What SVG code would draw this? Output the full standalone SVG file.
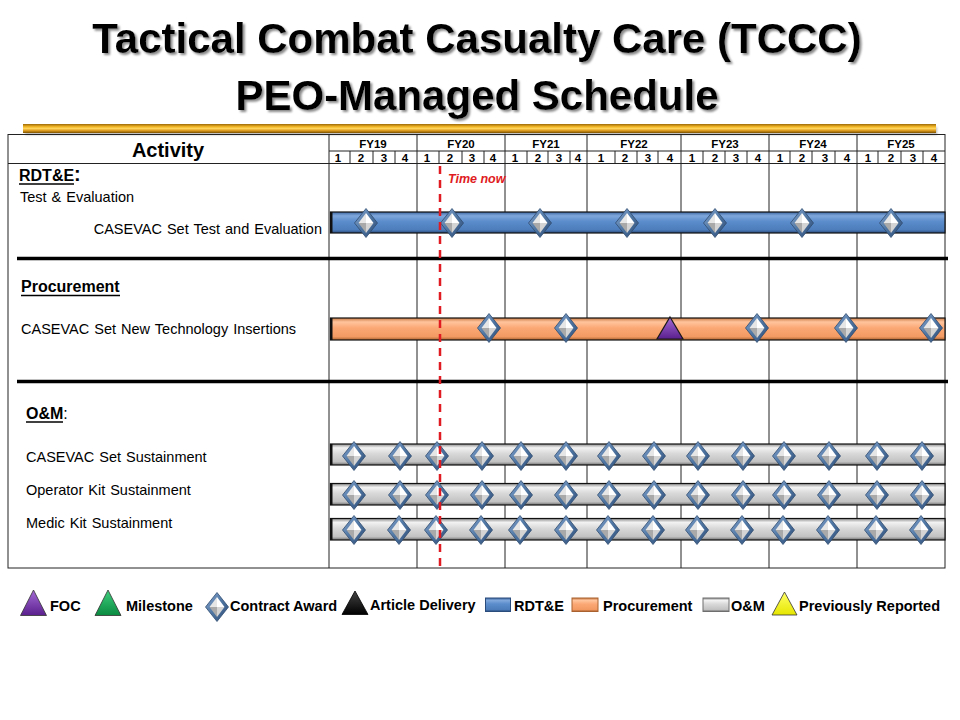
<svg xmlns="http://www.w3.org/2000/svg" width="960" height="720" viewBox="0 0 960 720">
<style>
.t{font-family:"Liberation Sans",Arial,sans-serif;fill:#000}
.title{font-size:42px;font-weight:bold;text-anchor:middle}
.hd{font-size:11.5px;font-weight:bold;text-anchor:middle}
.lbl{font-size:14.5px;word-spacing:1px}
.sec{font-weight:bold;font-size:16px}
.leg{font-size:14.5px;font-weight:bold}
.grid{stroke:#222;stroke-width:1;fill:none}
.sep{stroke:#000;stroke-width:3.5}
.bar{stroke:#111;stroke-width:1.2}
.now{stroke:#e01b22;stroke-width:2.5;stroke-dasharray:8 6;fill:none}
</style>
<defs>
<filter id="blur" x="-5%" y="-20%" width="110%" height="140%"><feGaussianBlur stdDeviation="1.2"/></filter>
<filter id="tshadow" x="-5%" y="-20%" width="110%" height="150%">
<feGaussianBlur in="SourceAlpha" stdDeviation="1.2"/>
<feOffset dx="2" dy="2" result="o"/>
<feFlood flood-color="#8a8a8a"/>
<feComposite in2="o" operator="in" result="s"/>
<feMerge><feMergeNode in="s"/><feMergeNode in="SourceGraphic"/></feMerge>
</filter>
<linearGradient id="gold" x1="0" y1="0" x2="0" y2="1">
<stop offset="0" stop-color="#9c6a08"/><stop offset="0.3" stop-color="#f2b526"/><stop offset="0.5" stop-color="#ffd45a"/><stop offset="0.75" stop-color="#d8961a"/><stop offset="1" stop-color="#7a5000"/>
</linearGradient>
<linearGradient id="gBlue" x1="0" y1="0" x2="0" y2="1">
<stop offset="0" stop-color="#3d67a0"/><stop offset="0.18" stop-color="#7fa7dc"/><stop offset="0.45" stop-color="#5b8ccb"/><stop offset="0.85" stop-color="#4d7dbb"/><stop offset="1" stop-color="#2a4c7c"/>
</linearGradient>
<linearGradient id="gOrange" x1="0" y1="0" x2="0" y2="1">
<stop offset="0" stop-color="#c97a45"/><stop offset="0.18" stop-color="#ffc49c"/><stop offset="0.45" stop-color="#fba875"/><stop offset="0.85" stop-color="#f39a62"/><stop offset="1" stop-color="#a9622f"/>
</linearGradient>
<linearGradient id="gGray" x1="0" y1="0" x2="0" y2="1">
<stop offset="0" stop-color="#8c8c8c"/><stop offset="0.18" stop-color="#f2f2f2"/><stop offset="0.45" stop-color="#d9d9d9"/><stop offset="0.85" stop-color="#c2c2c2"/><stop offset="1" stop-color="#6e6e6e"/>
</linearGradient>
<linearGradient id="gDiaOut" x1="0" y1="0" x2="1" y2="1">
<stop offset="0" stop-color="#86a7cf"/><stop offset="0.5" stop-color="#4f76a3"/><stop offset="1" stop-color="#2b4a72"/>
</linearGradient>
<linearGradient id="gPurple" x1="0" y1="0" x2="0" y2="1">
<stop offset="0" stop-color="#a46ad6"/><stop offset="1" stop-color="#5a1f8c"/>
</linearGradient>
<linearGradient id="gGreen" x1="0" y1="0" x2="0" y2="1">
<stop offset="0" stop-color="#3fd07e"/><stop offset="1" stop-color="#0a8a40"/>
</linearGradient>
<linearGradient id="gBlack" x1="0" y1="0" x2="0" y2="1">
<stop offset="0" stop-color="#444"/><stop offset="1" stop-color="#000"/>
</linearGradient>
<linearGradient id="gYellow" x1="0" y1="0" x2="0" y2="1">
<stop offset="0" stop-color="#ffff66"/><stop offset="1" stop-color="#e6e600"/>
</linearGradient>
<g id="dia">
<polygon points="0,-14.5 11.5,0 0,14.5 -11.5,0" fill="url(#gDiaOut)" stroke="#2e4b70" stroke-width="0.8"/>
<polygon points="0,-10 -7.5,0 0,0" fill="#e6e6e6"/>
<polygon points="0,-10 7.5,0 0,0" fill="#ffffff"/>
<polygon points="-7.5,0 0,10 0,0" fill="#a9a9a9"/>
<polygon points="7.5,0 0,10 0,0" fill="#d4d4d4"/>
</g>
</defs>

<g id="title" filter="url(#tshadow)">
<text class="t title" x="477" y="53">Tactical Combat Casualty Care (TCCC)</text>
<text class="t title" x="477" y="110">PEO-Managed Schedule</text>
</g>

<g id="goldbar">
<rect x="25" y="127" width="912" height="8" fill="#bdbdbd" filter="url(#blur)"/>
<rect x="23" y="124" width="913" height="9" fill="url(#gold)"/>
</g>

<g id="table">
<rect x="8" y="134.5" width="937" height="433.5" fill="#fff" class="grid"/>
<line class="grid" x1="8" y1="163.5" x2="945" y2="163.5"/>
<line class="grid" x1="329" y1="151" x2="945" y2="151"/>
<g class="grid">
<line x1="329" y1="134.5" x2="329" y2="568"/>
<line x1="417" y1="134.5" x2="417" y2="568"/>
<line x1="505" y1="134.5" x2="505" y2="568"/>
<line x1="587" y1="134.5" x2="587" y2="568"/>
<line x1="681" y1="134.5" x2="681" y2="568"/>
<line x1="769" y1="134.5" x2="769" y2="568"/>
<line x1="857" y1="134.5" x2="857" y2="568"/>
<path d="M350,151V163.5M373,151V163.5M395,151V163.5M439,151V163.5M462,151V163.5M484,151V163.5M527,151V163.5M548,151V163.5M570,151V163.5M615,151V163.5M637,151V163.5M658,151V163.5M703,151V163.5M725,151V163.5M747,151V163.5M790,151V163.5M812,151V163.5M835,151V163.5M878,151V163.5M901,151V163.5M923,151V163.5"/>
</g>
<text class="t" x="168" y="157" font-size="20" font-weight="bold" text-anchor="middle">Activity</text>
<g class="t hd">
<text x="373" y="148">FY19</text><text x="461" y="148">FY20</text><text x="546" y="148">FY21</text><text x="634" y="148">FY22</text><text x="725" y="148">FY23</text><text x="813" y="148">FY24</text><text x="901" y="148">FY25</text>
</g>
<g class="t hd">
<text x="338" y="161.5">1</text><text x="361" y="161.5">2</text><text x="384" y="161.5">3</text><text x="405" y="161.5">4</text>
<text x="427" y="161.5">1</text><text x="450" y="161.5">2</text><text x="472" y="161.5">3</text><text x="493" y="161.5">4</text>
<text x="515" y="161.5">1</text><text x="538" y="161.5">2</text><text x="559" y="161.5">3</text><text x="578" y="161.5">4</text>
<text x="601" y="161.5">1</text><text x="625" y="161.5">2</text><text x="648" y="161.5">3</text><text x="670" y="161.5">4</text>
<text x="692" y="161.5">1</text><text x="715" y="161.5">2</text><text x="736" y="161.5">3</text><text x="758" y="161.5">4</text>
<text x="780" y="161.5">1</text><text x="802" y="161.5">2</text><text x="825" y="161.5">3</text><text x="847" y="161.5">4</text>
<text x="868" y="161.5">1</text><text x="891" y="161.5">2</text><text x="913" y="161.5">3</text><text x="934" y="161.5">4</text>
</g>
<line class="sep" x1="17" y1="258.5" x2="948" y2="258.5"/>
<line class="sep" x1="17" y1="381.5" x2="948" y2="381.5"/>
</g>

<g id="rdte">
<text class="t sec" x="19" y="181">RDT&amp;E<tspan font-size="20">:</tspan></text>
<line x1="19" y1="184" x2="74" y2="184" stroke="#000" stroke-width="1.5"/>
<text class="t lbl" x="20" y="201.5">Test &amp; Evaluation</text>
<text class="t lbl" x="322" y="234" text-anchor="end">CASEVAC Set Test and Evaluation</text>
<rect class="bar" x="330.5" y="212" width="614.5" height="21" fill="url(#gBlue)"/>
<line x1="331.5" y1="212" x2="331.5" y2="233" stroke="#111" stroke-width="2"/>
<use href="#dia" x="366" y="223"/><use href="#dia" x="452" y="223"/><use href="#dia" x="540" y="223"/><use href="#dia" x="627" y="223"/><use href="#dia" x="715" y="223"/><use href="#dia" x="802" y="223"/><use href="#dia" x="891" y="223"/>
</g>

<g id="procurement">
<text class="t" x="21" y="292" font-size="16" font-weight="bold">Procurement</text>
<line x1="21" y1="295.5" x2="120" y2="295.5" stroke="#000" stroke-width="1.5"/>
<text class="t lbl" x="21" y="333.5">CASEVAC Set New Technology Insertions</text>
<rect class="bar" x="330.5" y="318" width="614.5" height="22" fill="url(#gOrange)"/>
<line x1="331.5" y1="318" x2="331.5" y2="340" stroke="#111" stroke-width="2"/>
<use href="#dia" x="489" y="328"/><use href="#dia" x="566" y="328"/>
<polygon points="670,317 683,339 657,339" fill="url(#gPurple)" stroke="#1a1a1a" stroke-width="1.2"/>
<use href="#dia" x="757" y="328"/><use href="#dia" x="846" y="328"/><use href="#dia" x="931" y="328"/>
</g>

<g id="om">
<text class="t sec" x="26" y="419">O&amp;M<tspan font-weight="normal">:</tspan></text>
<line x1="26" y1="422" x2="63" y2="422" stroke="#000" stroke-width="1.5"/>
<text class="t lbl" x="26" y="461.5">CASEVAC Set Sustainment</text>
<text class="t lbl" x="26" y="495">Operator Kit Sustainment</text>
<text class="t lbl" x="26" y="528">Medic Kit Sustainment</text>
<rect class="bar" x="330.5" y="444" width="614.5" height="21" fill="url(#gGray)"/>
<rect class="bar" x="330.5" y="483.5" width="614.5" height="21.5" fill="url(#gGray)"/>
<rect class="bar" x="330.5" y="518.5" width="614.5" height="21.5" fill="url(#gGray)"/>
<path d="M331.5,444V465M331.5,483.5V505M331.5,518.5V540" stroke="#111" stroke-width="2"/>
<g id="om1">
<use href="#dia" x="354" y="456"/><use href="#dia" x="400" y="456"/><use href="#dia" x="437" y="456"/><use href="#dia" x="482" y="456"/><use href="#dia" x="521" y="456"/><use href="#dia" x="566" y="456"/><use href="#dia" x="609" y="456"/><use href="#dia" x="654" y="456"/><use href="#dia" x="698" y="456"/><use href="#dia" x="743" y="456"/><use href="#dia" x="784" y="456"/><use href="#dia" x="829" y="456"/><use href="#dia" x="877" y="456"/><use href="#dia" x="922" y="456"/>
</g>
<g id="om2">
<use href="#dia" x="354" y="495"/><use href="#dia" x="400" y="495"/><use href="#dia" x="437" y="495"/><use href="#dia" x="482" y="495"/><use href="#dia" x="521" y="495"/><use href="#dia" x="566" y="495"/><use href="#dia" x="609" y="495"/><use href="#dia" x="654" y="495"/><use href="#dia" x="698" y="495"/><use href="#dia" x="743" y="495"/><use href="#dia" x="784" y="495"/><use href="#dia" x="829" y="495"/><use href="#dia" x="877" y="495"/><use href="#dia" x="922" y="495"/>
</g>
<g id="om3">
<use href="#dia" x="354" y="530"/><use href="#dia" x="399" y="530"/><use href="#dia" x="436" y="530"/><use href="#dia" x="481" y="530"/><use href="#dia" x="520" y="530"/><use href="#dia" x="566" y="530"/><use href="#dia" x="608" y="530"/><use href="#dia" x="653" y="530"/><use href="#dia" x="697" y="530"/><use href="#dia" x="742" y="530"/><use href="#dia" x="783" y="530"/><use href="#dia" x="828" y="530"/><use href="#dia" x="876" y="530"/><use href="#dia" x="921" y="530"/>
</g>
</g>

<g id="timenow">
<line class="now" x1="440" y1="166" x2="440" y2="568"/>
<text class="t" x="448" y="182.5" font-size="12.5" font-weight="bold" font-style="italic" style="fill:#e01b22">Time now</text>
</g>

<g id="legend">
<polygon points="33.5,590 46.5,615.5 20.5,615.5" fill="url(#gPurple)" stroke="#333" stroke-width="0.8"/>
<text class="t leg" x="50" y="611">FOC</text>
<polygon points="108,590 121,615.5 95,615.5" fill="url(#gGreen)" stroke="#333" stroke-width="0.8"/>
<text class="t leg" x="126" y="611">Milestone</text>
<use href="#dia" x="217" y="607"/>
<text class="t leg" x="230" y="611">Contract Award</text>
<polygon points="355,591 368,614.5 342,614.5" fill="url(#gBlack)" stroke="#000" stroke-width="0.8"/>
<text class="t leg" x="370" y="610">Article Delivery</text>
<rect x="485.5" y="598" width="25" height="13.5" fill="url(#gBlue)" stroke="#2a4c7c" stroke-width="1"/>
<text class="t leg" x="514" y="611">RDT&amp;E</text>
<rect x="572" y="598" width="26" height="13.5" fill="url(#gOrange)" stroke="#a9622f" stroke-width="1"/>
<text class="t leg" x="603" y="611">Procurement</text>
<rect x="703" y="598" width="26" height="13.5" fill="url(#gGray)" stroke="#6e6e6e" stroke-width="1"/>
<text class="t leg" x="731" y="611">O&amp;M</text>
<polygon points="784.5,592 797,615 772,615" fill="url(#gYellow)" stroke="#333" stroke-width="0.8"/>
<text class="t leg" x="799" y="611">Previously Reported</text>
</g>
</svg>
